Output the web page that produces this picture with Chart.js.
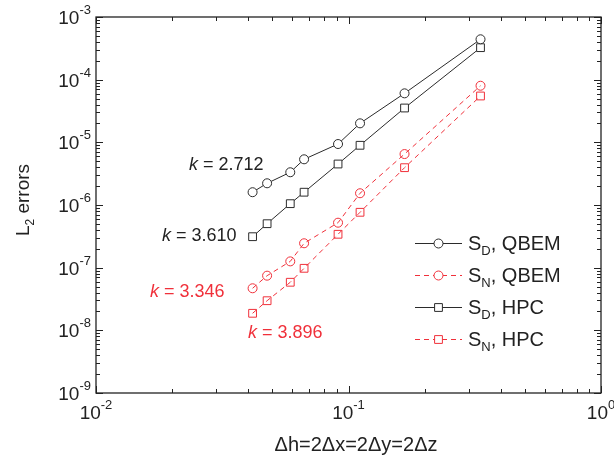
<!DOCTYPE html>
<html lang="en">
<head>
<meta charset="UTF-8">
<title>L2 errors vs grid spacing</title>
<script src="https://cdn.jsdelivr.net/npm/chart.js@4/dist/chart.umd.min.js"></script>
<style>
  html, body { margin: 0; padding: 0; background: #fff; }
  #c { display: block; }
</style>
</head>
<body>
<canvas id="c" width="614" height="461"></canvas>
<script>
// grid spacing dh = 2dx = 2dy = 2dz
const dh = [0.0417, 0.0476, 0.0588, 0.0667, 0.0909, 0.1111, 0.1667, 0.3333];

// L2 errors per series
const sdQbem = [1.60e-6, 2.22e-6, 3.33e-6, 5.36e-6, 9.40e-6, 2.01e-5, 6.05e-5, 4.41e-4];
const snQbem = [4.69e-8, 7.45e-8, 1.26e-7, 2.45e-7, 5.22e-7, 1.54e-6, 6.50e-6, 8.00e-5];
const sdHpc  = [3.12e-7, 5.03e-7, 1.05e-6, 1.60e-6, 4.51e-6, 8.97e-6, 3.53e-5, 3.24e-4];
const snHpc  = [1.87e-8, 2.97e-8, 5.85e-8, 9.77e-8, 3.41e-7, 7.65e-7, 3.94e-6, 5.49e-5];

// axis decades (exponents)
const xDecades = [-2, -1, 0];
const yDecades = [-9, -8, -7, -6, -5, -4, -3];

// convergence rates
const slopes = [
  { k: '2.712', red: false },
  { k: '3.610', red: false },
  { k: '3.346', red: true },
  { k: '3.896', red: true }
];

const BLACK = '#2b2b2b';
const RED = '#f0303a';
const FONT = "'Liberation Sans', Arial, Helvetica, sans-serif";

const pts = ys => dh.map((x, i) => ({ x: x, y: ys[i] }));

const series = [
  { sub: 'D', name: 'QBEM', data: sdQbem, color: BLACK, dash: [], style: 'circle' },
  { sub: 'N', name: 'QBEM', data: snQbem, color: RED, dash: [5, 4], style: 'circle' },
  { sub: 'D', name: 'HPC', data: sdHpc, color: BLACK, dash: [], style: 'rect' },
  { sub: 'N', name: 'HPC', data: snHpc, color: RED, dash: [5, 4], style: 'rect' }
];

const datasets = series.map(s => ({
  label: 'S' + s.sub + ', ' + s.name,
  data: pts(s.data),
  borderColor: s.color,
  borderWidth: 1,
  borderDash: s.dash,
  pointStyle: s.style,
  pointRadius: s.style === 'rect' ? 5.5 : 4.5,
  pointBorderColor: s.color,
  pointBorderWidth: 1,
  pointBackgroundColor: s.color === RED ? 'rgba(0,0,0,0)' : '#fff',
  tension: 0
}));

// 10^n label with raised exponent
function powLabel(ctx, exp, x, y, align, color) {
  ctx.fillStyle = color || '#222';
  ctx.font = '19px ' + FONT;
  const wb = ctx.measureText('10').width;
  ctx.font = '13px ' + FONT;
  const se = String(exp);
  const we = ctx.measureText(se).width;
  const total = wb + we;
  let x0 = x;
  if (align === 'center') x0 = x - total / 2;
  if (align === 'right') x0 = x - total;
  ctx.textAlign = 'left';
  ctx.textBaseline = 'alphabetic';
  ctx.font = '19px ' + FONT;
  ctx.fillText('10', x0, y);
  ctx.font = '13px ' + FONT;
  ctx.fillText(se, x0 + wb, y - 10);
}

// S with subscript, then ", name"
function subLabel(ctx, sub, name, x, y) {
  ctx.textAlign = 'left';
  ctx.textBaseline = 'alphabetic';
  ctx.fillStyle = '#222';
  ctx.font = '20px ' + FONT;
  ctx.fillText('S', x, y);
  let cx = x + ctx.measureText('S').width;
  ctx.font = '13px ' + FONT;
  ctx.fillText(sub, cx, y + 5);
  cx += ctx.measureText(sub).width;
  ctx.font = '20px ' + FONT;
  ctx.fillText(', ' + name, cx, y);
}

function marker(ctx, style, x, y, color, fill) {
  ctx.save();
  ctx.setLineDash([]);
  ctx.strokeStyle = color;
  ctx.fillStyle = fill;
  ctx.lineWidth = 1;
  ctx.beginPath();
  if (style === 'circle') ctx.arc(x, y, 4.5, 0, Math.PI * 2);
  else ctx.rect(x - 3.9, y - 3.9, 7.8, 7.8);
  ctx.fill();
  ctx.stroke();
  ctx.restore();
}

const decorations = {
  id: 'decorations',
  afterDraw(chart) {
    const ctx = chart.ctx;
    const a = chart.chartArea;
    const xs = chart.scales.x;
    const ys = chart.scales.y;
    ctx.save();

    // box
    ctx.strokeStyle = '#222';
    ctx.lineWidth = 1.3;
    ctx.setLineDash([]);
    ctx.strokeRect(a.left, a.top, a.right - a.left, a.bottom - a.top);

    // inward ticks on all four sides
    ctx.lineWidth = 1;
    ctx.beginPath();
    xDecades.forEach(e => {
      for (let m = 1; m <= 9; m++) {
        if (e === 0 && m > 1) break;
        const v = m * Math.pow(10, e);
        const px = Math.round(xs.getPixelForValue(v)) + 0.5;
        const len = m === 1 ? 7 : 4;
        ctx.moveTo(px, a.bottom); ctx.lineTo(px, a.bottom - len);
        ctx.moveTo(px, a.top); ctx.lineTo(px, a.top + len);
      }
    });
    yDecades.forEach(e => {
      for (let m = 1; m <= 9; m++) {
        if (e === -3 && m > 1) break;
        const v = m * Math.pow(10, e);
        const py = Math.round(ys.getPixelForValue(v)) + 0.5;
        const len = m === 1 ? 7 : 4;
        ctx.moveTo(a.left, py); ctx.lineTo(a.left + len, py);
        ctx.moveTo(a.right, py); ctx.lineTo(a.right - len, py);
      }
    });
    ctx.stroke();

    // tick labels
    xDecades.forEach(e => powLabel(ctx, e, xs.getPixelForValue(Math.pow(10, e)), 419, 'center'));
    yDecades.forEach(e => powLabel(ctx, e, 91, ys.getPixelForValue(Math.pow(10, e)) + 7, 'right'));

    // x title
    ctx.fillStyle = '#222';
    ctx.font = '20px ' + FONT;
    ctx.textAlign = 'center';
    ctx.fillText('\u0394h=2\u0394x=2\u0394y=2\u0394z', 356, 451);

    // y title, rotated
    ctx.save();
    ctx.translate(29, 200);
    ctx.rotate(-Math.PI / 2);
    ctx.font = '19px ' + FONT;
    const wL = ctx.measureText('L').width;
    const wE = ctx.measureText(' errors').width;
    ctx.font = '12px ' + FONT;
    const w2 = ctx.measureText('2').width;
    let sx = -(wL + w2 + wE) / 2;
    ctx.textAlign = 'left';
    ctx.font = '19px ' + FONT;
    ctx.fillText('L', sx, 0);
    ctx.font = '12px ' + FONT;
    ctx.fillText('2', sx + wL, 5);
    ctx.font = '19px ' + FONT;
    ctx.fillText(' errors', sx + wL + w2, 0);
    ctx.restore();

    // slope labels
    const kPos = [[189, 170], [162, 241], [150, 297], [248, 338]];
    slopes.forEach((s, i) => {
      const [kx, ky] = kPos[i];
      ctx.fillStyle = s.red ? RED : '#222';
      ctx.textAlign = 'left';
      ctx.font = 'italic 18px ' + FONT;
      ctx.fillText('k', kx, ky);
      const wk = ctx.measureText('k').width;
      ctx.font = '18px ' + FONT;
      ctx.fillText(' = ' + s.k, kx + wk, ky);
    });

    // legend
    const rows = [243, 275, 307, 339];
    series.forEach((s, i) => {
      const y = rows[i] + 0.5;
      ctx.strokeStyle = s.color;
      ctx.lineWidth = 1;
      ctx.setLineDash(s.dash);
      ctx.beginPath();
      ctx.moveTo(415, y);
      ctx.lineTo(462, y);
      ctx.stroke();
      marker(ctx, s.style, 438.5, y, s.color, '#fff');
      subLabel(ctx, s.sub, s.name, 468, rows[i] + 7);
    });

    ctx.restore();
  }
};

new Chart(document.getElementById('c'), {
  type: 'line',
  data: { datasets: datasets },
  options: {
    responsive: false,
    animation: false,
    devicePixelRatio: 1,
    layout: { padding: { left: 96, right: 13, top: 17, bottom: 68 } },
    scales: {
      x: { type: 'logarithmic', min: 0.01, max: 1, display: false },
      y: { type: 'logarithmic', min: 1e-9, max: 1e-3, display: false }
    },
    plugins: {
      legend: { display: false },
      tooltip: { enabled: false }
    }
  },
  plugins: [decorations]
});
</script>
</body>
</html>
